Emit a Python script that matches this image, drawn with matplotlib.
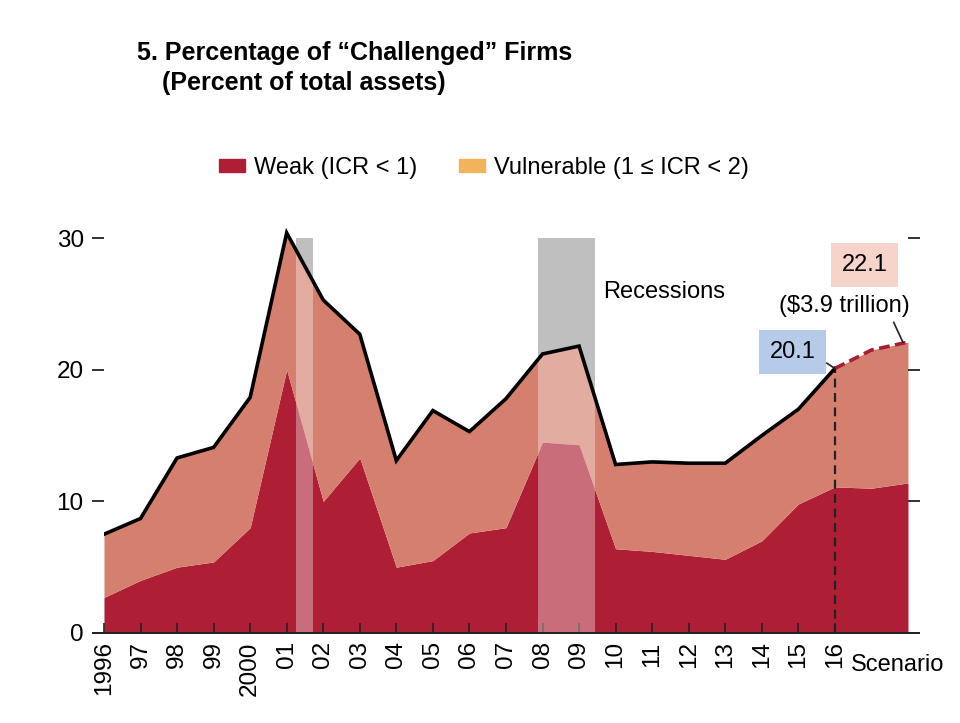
import matplotlib
matplotlib.use("Agg")
import matplotlib.pyplot as plt
from matplotlib.patches import Patch
import numpy as np

plt.rcParams['font.family'] = ['Liberation Sans', 'DejaVu Sans']

# data (percent of total assets), 2017-2018 are the scenario
years = list(range(1996, 2019))
weak = [2.7, 4.0, 5.0, 5.4, 8.0, 20.0, 10.0, 13.3, 5.0, 5.5, 7.6, 8.0,
        14.5, 14.3, 6.4, 6.2, 5.9, 5.6, 7.0, 9.8, 11.1, 11.0, 11.4]
total = [7.5, 8.7, 13.3, 14.1, 17.9, 30.4, 25.3, 22.7, 13.1, 16.9, 15.3, 17.8,
         21.2, 21.8, 12.8, 13.0, 12.9, 12.9, 15.0, 17.0, 20.1, 21.5, 22.1]
tick_years = list(range(1996, 2017))
tick_labels = ['1996', '97', '98', '99', '2000', '01', '02', '03', '04', '05',
               '06', '07', '08', '09', '10', '11', '12', '13', '14', '15', '16']
recessions = [(2001.25, 2001.72), (2007.87, 2009.43)]

weak_c = '#ae1f35'
vuln_c = '#d5806f'
legend_weak = '#b01e36'
legend_vuln = '#f2b35c'
fs = 17

fig = plt.figure(figsize=(9.6, 7.23), dpi=100)
ax = fig.add_axes([0.1083, 0.1245, 0.8375, 0.5643])

# recession bars: gray behind, white veil on top
for x0, x1 in recessions:
    ax.fill_between([x0, x1], 0, 30, color='#9e9e9e', lw=0, zorder=0)

ax.fill_between(years, 0, weak, color=weak_c, lw=0, zorder=1)
ax.fill_between(years, weak, total, color=vuln_c, lw=0, zorder=1)

for x0, x1 in recessions:
    ax.fill_between([x0, x1], 0, 30, color='white', alpha=0.35, lw=0, zorder=2)

ax.plot(years[:21], total[:21], color='black', lw=2.6, zorder=4,
        solid_joinstyle='miter')
ax.plot(years[20:], total[20:], color='#a81e36', lw=2.6, zorder=4,
        dashes=(3, 1.5))
ax.plot([2016, 2016], [0, total[20]], color='#222222', lw=1.6, zorder=3,
        dashes=(4, 2.5))

ax.set_xlim(1996, 2018)
ax.set_ylim(0, 31)
for s in ax.spines.values():
    s.set_visible(False)
ax.plot([-0.014, 1.014], [0, 0], transform=ax.transAxes, color='#222222',
        lw=1.4, clip_on=False, zorder=5)

ax.set_xticks(tick_years)
ax.set_xticklabels(tick_labels, rotation=90, fontsize=fs + 0.5)
ax.tick_params(axis='x', direction='in', length=7, width=1.2, pad=6,
               color='#222222')
ax.set_yticks([0, 10, 20, 30])
ax.set_yticklabels(['0', '10', '20', '30'], fontsize=fs + 0.5)
ax.tick_params(axis='y', direction='out', length=8.6, width=1.3, pad=6,
               right=True, color='#222222')

ax.text(2016.45, -0.078, 'Scenario', transform=ax.get_xaxis_transform(),
        fontsize=fs, ha='left', va='center')
ax.text(2009.65, 25.9, 'Recessions', fontsize=fs, ha='left', va='center')

ax.text(2014.85, 21.35, '20.1', fontsize=fs, ha='center', va='center',
        bbox=dict(boxstyle='square,pad=0.45', fc='#b6cbea', ec='none'), zorder=6)
ax.plot([2015.78, 2016.0], [20.5, 20.1], color='#222222', lw=1.2, zorder=6)
ax.text(2016.82, 27.96, '22.1', fontsize=fs, ha='center', va='center',
        bbox=dict(boxstyle='square,pad=0.45', fc='#f6d4c9', ec='none'), zorder=6)
ax.text(2016.27, 24.85, '($3.9 trillion)', fontsize=fs, ha='center',
        va='center', zorder=6)
ax.plot([2017.61, 2017.86], [23.6, 22.1], color='#222222', lw=1.2, zorder=6)

fig.text(137 / 960, 1 - 60 / 723, '5. Percentage of \u201cChallenged\u201d Firms',
         fontsize=18, fontweight='bold', ha='left', va='baseline')
fig.text(162 / 960, 1 - 90 / 723, '(Percent of total assets)',
         fontsize=18, fontweight='bold', ha='left', va='baseline')

handles = [Patch(color=legend_weak, label='Weak (ICR < 1)'),
           Patch(color=legend_vuln, label='Vulnerable (1 \u2264 ICR < 2)')]
fig.legend(handles=handles, loc='center', bbox_to_anchor=(0.504, 1 - 168 / 723),
           ncol=2, frameon=False, fontsize=fs, handlelength=1.1,
           handleheight=0.5, handletextpad=0.38, columnspacing=1.74)

fig.savefig('out.png', dpi=100)
